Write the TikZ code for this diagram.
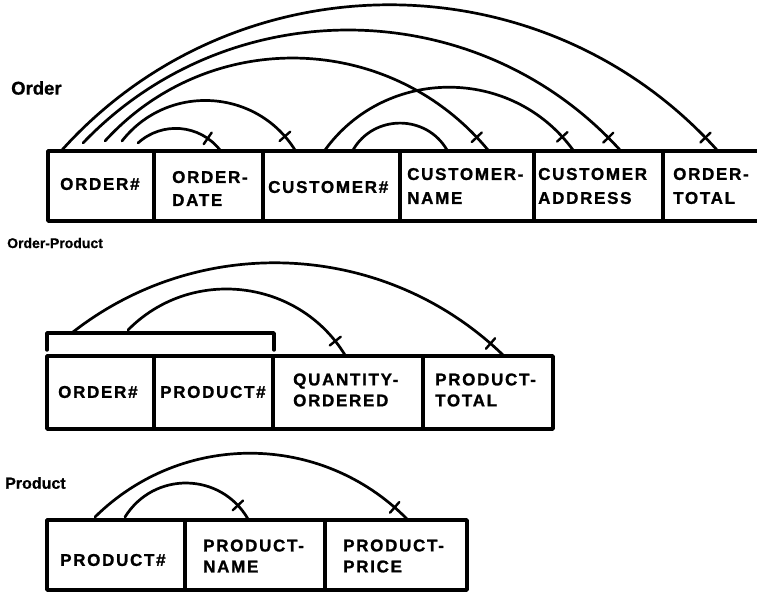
\documentclass[tikz,border=0pt]{standalone}
\usepackage{fontspec}
\setmainfont{Liberation Sans}
\newfontfamily\cellfont[LetterSpace=10, BoldFeatures={FakeBold=1.2}]{Liberation Sans}
\newfontfamily\titlefont[BoldFeatures={FakeBold=0.8}]{Liberation Sans}
\usetikzlibrary{decorations.markings}
\begin{document}
\begin{tikzpicture}[x=1pt,y=-1pt,
  tbl/.style={line width=3.4pt, line join=round, line cap=round},
  plain/.style={line width=2.7pt, line cap=round},
  dep/.style={plain, postaction={decorate},
    decoration={markings, mark=at position -17pt with {\draw[line width=2.4pt] (0,-7pt) -- (0,7pt);}}},
  cell/.style={anchor=west, align=left, inner sep=0pt, font=\cellfont\bfseries\fontsize{17}{21}\selectfont},
  title/.style={anchor=west, inner sep=0pt}]
\useasboundingbox (0,0) rectangle (757,594);

% ---------------- Order ----------------
\node[title, font=\titlefont\bfseries\fontsize{18.5}{20}\selectfont] (tOrder) at (11,88) {Order};
\draw[tbl] (760,151) -- (48,151) -- (48,221) -- (760,221);
\foreach \x in {154,263,400,534,663} \draw[tbl] (\x,151) -- (\x,221);
\node[cell] (o1) at (60,184) {ORDER\#};
\node[cell] (o2) at (172,188.5) {ORDER-\\[2pt]DATE};
\node[cell] (o3) at (268,187) {CUSTOMER\#};
\node[cell] (o4) at (407,186) {CUSTOMER-\\[3pt]NAME};
\node[cell] (o5) at (538,186) {CUSTOMER\\[3pt]ADDRESS};
\node[cell] (o6) at (673,186) {ORDER-\\[3pt]TOTAL};

\coordinate (a1s) at (62,150);  \coordinate (a1e) at (717,150);
\coordinate (a2s) at (83,143);  \coordinate (a2e) at (620,150);
\coordinate (a3s) at (105,141); \coordinate (a3e) at (488,150);
\coordinate (a4s) at (122,141); \coordinate (a4e) at (295,150);
\coordinate (a5s) at (138,143); \coordinate (a5e) at (220,150);
\coordinate (b1s) at (325,150); \coordinate (b1e) at (573,150);
\coordinate (b2s) at (353,150); \coordinate (b2e) at (447,150);

\draw[dep] (a1s) to[bend left=48, looseness=1.02] (a1e);
\draw[dep] (a2s) to[bend left=47, looseness=1.01] (a2e);
\draw[dep] (a3s) to[bend left=49, looseness=1.03] (a3e);
\draw[dep] (a4s) to[bend left=55, looseness=1.08] (a4e);
\draw[dep] (a5s) to[bend left=47, looseness=1.02] (a5e);
\draw[dep] (b1s) to[bend left=54, looseness=1.07] (b1e);
\draw[plain] (b2s) to[bend left=60, looseness=1.13] (b2e);

% ---------------- Order-Product ----------------
\node[title, font=\titlefont\bfseries\fontsize{14}{15}\selectfont] (tOP) at (7,243) {Order-Product};
\draw[tbl] (47,350) -- (47,333) -- (274,333) -- (274,350);
\draw[tbl] (47,356) rectangle (553,429);
\foreach \x in {154,273,423} \draw[tbl] (\x,356) -- (\x,429);
\node[cell] (q1) at (58,392) {ORDER\#};
\node[cell] (q2) at (160,392) {PRODUCT\#};
\node[cell] (q3) at (293,390) {QUANTITY-\\ORDERED};
\node[cell] (q4) at (435,390) {PRODUCT-\\TOTAL};

\coordinate (c1s) at (73,332);  \coordinate (c1e) at (503,355);
\coordinate (c2s) at (128,330); \coordinate (c2e) at (345,355);
\draw[dep] (c1s) to[bend left=41, looseness=0.97] (c1e);
\draw[dep] (c2s) to[bend left=52, looseness=1.05] (c2e);

% ---------------- Product ----------------
\node[title, font=\titlefont\bfseries\fontsize{16}{18}\selectfont] (tP) at (5,483) {Product};
\draw[tbl] (47,520) rectangle (467,590);
\foreach \x in {185,325} \draw[tbl] (\x,520) -- (\x,590);
\node[cell] (r1) at (60,560) {PRODUCT\#};
\node[cell] (r2) at (203,556) {PRODUCT-\\NAME};
\node[cell] (r3) at (343,556) {PRODUCT-\\PRICE};

\coordinate (p1s) at (95,517);  \coordinate (p1e) at (407,519);
\coordinate (p2s) at (125,517); \coordinate (p2e) at (248,519);
\draw[dep] (p1s) to[bend left=45, looseness=1.0] (p1e);
\draw[dep] (p2s) to[bend left=59, looseness=1.13] (p2e);
\end{tikzpicture}
\end{document}
